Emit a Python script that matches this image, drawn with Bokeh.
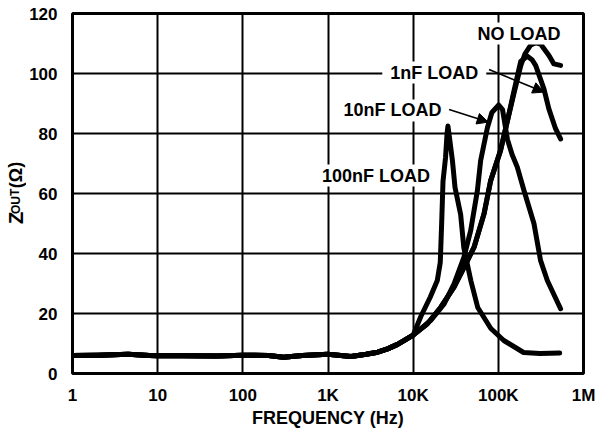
from bokeh.plotting import figure
from bokeh.layouts import row
from bokeh.models import Label, Arrow, NormalHead, FixedTicker, Range1d
from bokeh.core.properties import value
from bokeh.embed import file_html
from bokeh.resources import INLINE

# ---- data ----
freq_base = [1, 2, 4.5, 8, 10, 20, 50, 100, 200, 300, 500, 1000, 1860, 2800, 3830, 5000, 6560]
zout_base = [6.0, 6.1, 6.4, 6.0, 5.9, 5.9, 5.8, 6.1, 6.0, 5.4, 6.0, 6.4, 5.7, 6.4, 7.1, 8.2, 9.7]

freq_100nf = freq_base + [10000, 12300, 15900, 19200, 20800, 21600, 22400, 24000, 25000, 25600,
                          26600, 28900, 31000, 36100, 39300, 47500, 57300, 81700, 116000,
                          198000, 309000, 525000]
zout_100nf = zout_base + [12.8, 19.0, 25.5, 31.0, 37.0, 50.0, 64.0, 72.0, 80.0, 82.5,
                          79.0, 71.0, 62.0, 53.0, 42.0, 31.0, 22.0, 15.0, 11.0,
                          7.0, 6.7, 6.8]

freq_10nf = freq_base + [10000, 16100, 23100, 30200, 39500, 47400, 56800, 62000, 74500, 84000,
                         101000, 112000, 128000, 145000, 167000, 200000, 262000, 313000,
                         376000, 538000]
zout_10nf = zout_base + [12.8, 17.7, 23.2, 29.9, 38.8, 47.7, 61.0, 71.0, 82.0, 87.0,
                         89.5, 88.0, 78.0, 73.0, 68.8, 61.0, 50.0, 37.7,
                         31.0, 21.6]

freq_1nf = freq_base + [10000, 14700, 21100, 30200, 39600, 51900, 67900, 81300, 106000, 128000,
                        153000, 183000, 219000, 250000, 274000, 343000, 392000, 470000, 538000]
zout_1nf = zout_base + [12.8, 16.6, 22.1, 28.8, 35.4, 42.1, 53.2, 64.3, 74.3, 84.3,
                        94.3, 104.0, 105.8, 104.5, 102.7, 94.9, 88.2, 81.6, 78.2]

freq_noload = freq_base + [10000, 14700, 21100, 30200, 39600, 51900, 67900, 81300, 106000, 128000,
                           153000, 183000, 205000, 240000, 274000, 313000, 393000, 449000, 538000]
zout_noload = zout_base + [12.8, 16.6, 22.1, 28.8, 35.4, 42.1, 53.2, 64.3, 74.3, 84.3,
                           93.5, 102.5, 106.5, 109.5, 110.2, 109.8, 106.0, 103.2, 102.7]

x_ticks = [1, 10, 100, 1000, 10000, 100000, 1000000]
x_tick_labels = ["1", "10", "100", "1K", "10K", "100K", "1M"]
y_ticks = [0, 20, 40, 60, 80, 100, 120]

series_labels = ["NO LOAD", "1nF LOAD", "10nF LOAD", "100nF LOAD"]
label_x = [175000, 17700, 5730, 3650]
label_y = [113.3, 100.3, 87.7, 66.0]

x_title = "FREQUENCY (Hz)"
y_title_parts = ["Z", "OUT", "(Ω)"]
y_title_sizes = ["20px", "12px", "18px"]
y_title_pos = [186.0, 205.5, 237.0]

FONT = "Liberation Sans"
STRIP_W = 26

# ---- narrow strip that carries the rotated y title (Z with subscript OUT) ----
ytitle = figure(width=STRIP_W, height=430, x_range=Range1d(0, STRIP_W), y_range=Range1d(0, 430),
                output_backend="svg", toolbar_location=None, min_border=0,
                x_axis_location=None, y_axis_location=None)
ytitle.outline_line_color = None
ytitle.grid.grid_line_color = None
for txt, sz, yy in zip(y_title_parts, y_title_sizes, y_title_pos):
    ytitle.text(x=[15], y=[yy], text=[txt], angle=1.5708,
                text_align="center", text_baseline="middle",
                text_font=value(FONT), text_font_size=sz, text_font_style="bold",
                text_color="black")

# ---- main chart ----
p = figure(width=600 - STRIP_W, height=430, x_axis_type="log",
           x_range=Range1d(1, 1e6), y_range=Range1d(0, 120),
           output_backend="svg", toolbar_location=None,
           min_border_left=71 - STRIP_W, min_border_right=17,
           min_border_top=13, min_border_bottom=57)

p.outline_line_color = "black"
p.outline_line_width = 3
p.outline_line_alpha = 1

for ax, ticks in ((p.xaxis, x_ticks), (p.yaxis, y_ticks)):
    ax.ticker = FixedTicker(ticks=ticks, minor_ticks=[])
    ax.axis_line_color = None
    ax.major_tick_line_color = None
    ax.minor_tick_line_color = None
    ax.major_label_text_font = FONT
    ax.major_label_text_font_size = "17px"
    ax.major_label_text_font_style = "bold"
    ax.major_label_text_color = "black"
p.xaxis.major_label_overrides = {t: s for t, s in zip(x_ticks, x_tick_labels)}
p.xaxis.major_label_standoff = 6
p.yaxis.major_label_standoff = 9
p.yaxis.axis_label_standoff = 0

p.xaxis.axis_label = x_title
p.xaxis.axis_label_text_font = FONT
p.xaxis.axis_label_text_font_size = "18px"
p.xaxis.axis_label_text_font_style = "bold"
p.xaxis.axis_label_text_color = "black"
p.xaxis.axis_label_standoff = 0

p.xgrid.ticker = FixedTicker(ticks=x_ticks, minor_ticks=[])
p.ygrid.ticker = FixedTicker(ticks=y_ticks, minor_ticks=[])
for g in (p.xgrid, p.ygrid):
    g.grid_line_color = "black"
    g.grid_line_width = 2
    g.grid_line_alpha = 1

for fx, zy in ((freq_100nf, zout_100nf), (freq_10nf, zout_10nf),
               (freq_1nf, zout_1nf), (freq_noload, zout_noload)):
    p.line(fx, zy, line_color="black", line_width=5, line_join="round", line_cap="round")

for txt, lx, ly in zip(series_labels, label_x, label_y):
    p.add_layout(Label(x=lx, y=ly, text=txt, text_align="center", text_baseline="alphabetic",
                       text_font=FONT, text_font_size="18px", text_font_style="bold",
                       text_color="black", background_fill_color="white", padding=(8, 1)))

# arrows for 1nF and 10nF labels
p.add_layout(Arrow(end=NormalHead(size=11, fill_color="black", line_color="black"),
                   x_start=77700, y_start=101.3, x_end=343000, y_end=93.8,
                   line_color="black", line_width=1.6))
p.add_layout(Arrow(end=NormalHead(size=11, fill_color="black", line_color="black"),
                   x_start=26400, y_start=88.0, x_end=76000, y_end=83.8,
                   line_color="black", line_width=1.6))

layout = row(ytitle, p, spacing=0)
open("out.html", "w").write(file_html(layout, INLINE))
